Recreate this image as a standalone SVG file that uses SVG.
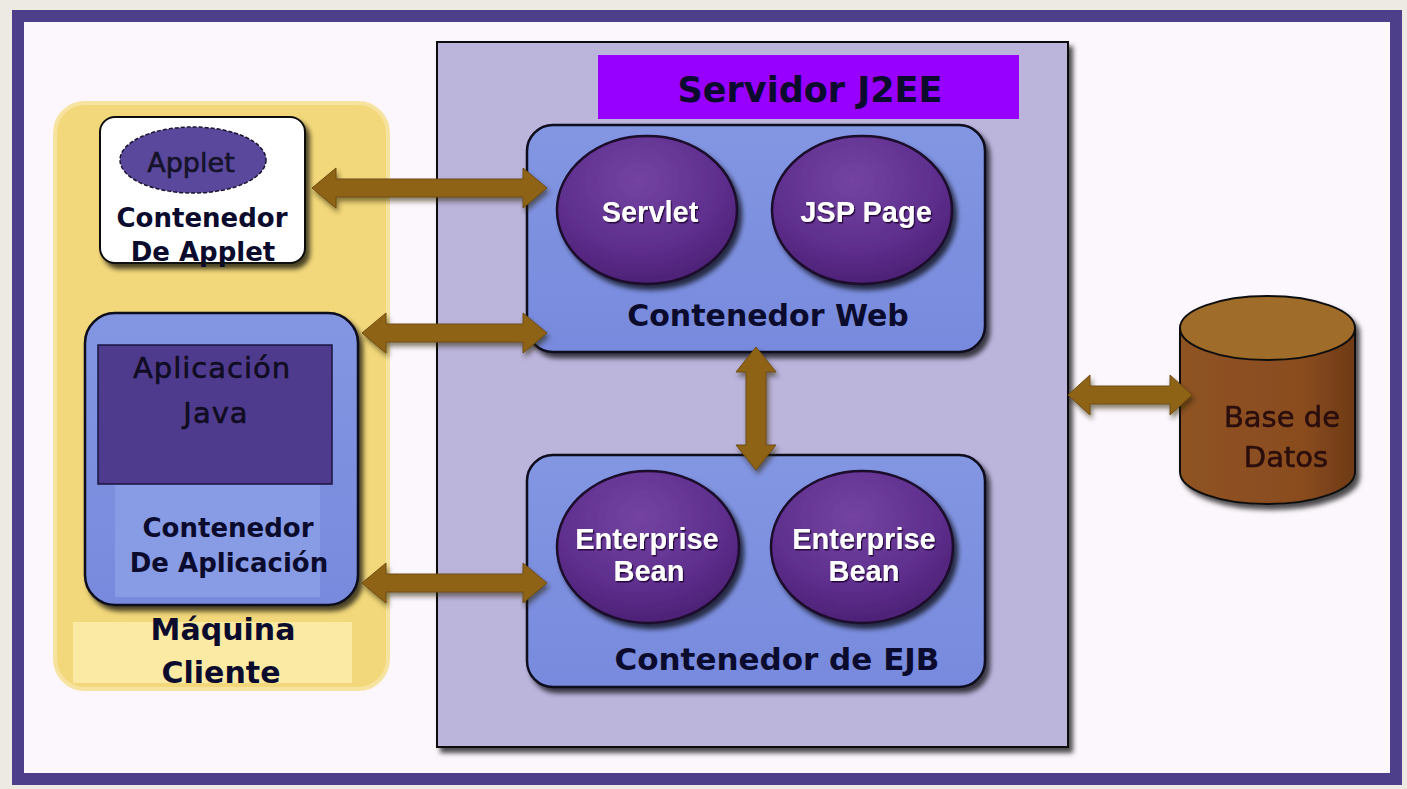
<svg xmlns="http://www.w3.org/2000/svg" width="1407" height="789" viewBox="0 0 1407 789">
  <style>
    .lbl { font-family: "DejaVu Sans", Verdana, sans-serif; font-weight: bold; fill: #0b0b2e; text-anchor: middle; }
    .reg { font-family: "DejaVu Sans", Verdana, sans-serif; font-weight: normal; text-anchor: middle; }
    .bean { font-family: "Liberation Sans", Arial, sans-serif; font-weight: bold; fill: #ffffff; text-anchor: middle; font-size: 29px; }
    .cont { fill: url(#blueG); stroke: #0a0a1e; stroke-width: 2.5; }
    .ball { fill: url(#ballG); stroke: #1a0a2a; stroke-width: 2.5; }
    .arrow { fill: #8f6419; stroke: #6e4c10; stroke-width: 1; }
  </style>
  <defs>
    <filter id="sh" x="-10%" y="-10%" width="125%" height="125%">
      <feDropShadow dx="4" dy="5" stdDeviation="2.5" flood-color="#000" flood-opacity="0.7"/>
    </filter>
    <filter id="shs" x="-10%" y="-10%" width="125%" height="130%">
      <feDropShadow dx="2" dy="4" stdDeviation="2.5" flood-color="#2a1a00" flood-opacity="0.55"/>
    </filter>
    <filter id="ts" x="-5%" y="-20%" width="110%" height="140%">
      <feDropShadow dx="1.2" dy="1.5" stdDeviation="0.6" flood-color="#1a0030" flood-opacity="0.9"/>
    </filter>
    <linearGradient id="blueG" x1="0" y1="0" x2="0" y2="1">
      <stop offset="0" stop-color="#8396e2"/>
      <stop offset="1" stop-color="#778add"/>
    </linearGradient>
    <radialGradient id="ballG" cx="0.45" cy="0.3" r="0.75">
      <stop offset="0" stop-color="#7444a2"/>
      <stop offset="0.6" stop-color="#5f2f8e"/>
      <stop offset="1" stop-color="#4a1f72"/>
    </radialGradient>
    <linearGradient id="dbBody" x1="0" y1="0" x2="1" y2="0">
      <stop offset="0" stop-color="#8f5322"/>
      <stop offset="0.7" stop-color="#8a4c1f"/>
      <stop offset="1" stop-color="#6e3a16"/>
    </linearGradient>
  </defs>

  <!-- background & frame -->
  <rect x="0" y="0" width="1407" height="789" fill="#edeae4"/>
  <rect x="18" y="16" width="1378" height="763" fill="#fcf7fc" stroke="#4e3f8a" stroke-width="12"/>

  <!-- client machine -->
  <g id="maquina-cliente">
    <rect x="55" y="103" width="333" height="586" rx="30" fill="#f2d87a" stroke="#f6e3a0" stroke-width="4"/>
    <rect x="73" y="622" width="279" height="61" fill="#fbeaa4"/>
    <text class="lbl" x="223" y="640" font-size="30">Máquina</text>
    <text class="lbl" x="221" y="683" font-size="30">Cliente</text>
  </g>

  <g id="contenedor-applet">
    <rect x="100" y="117" width="205" height="146" rx="15" fill="#ffffff" stroke="#111" stroke-width="2" filter="url(#sh)"/>
    <ellipse cx="193" cy="160" rx="73" ry="33" fill="#5a489c" stroke="#1a1430" stroke-width="1.5" stroke-dasharray="4 2"/>
    <text class="reg" x="191" y="172" font-size="27" fill="#15122a" stroke="#15122a" stroke-width="0.6">Applet</text>
    <text class="lbl" x="202" y="227" font-size="26" fill="#000">Contenedor</text>
    <text class="lbl" x="203" y="261" font-size="26" fill="#000">De Applet</text>
    <line x1="112" y1="263" x2="293" y2="263" stroke="#111" stroke-width="2"/>
  </g>

  <g id="contenedor-aplicacion">
    <rect x="85" y="313" width="273" height="292" rx="30" class="cont" filter="url(#sh)"/>
    <rect x="115" y="485" width="205" height="112" fill="#889be5"/>
    <rect x="98" y="345" width="234" height="139" fill="#4f3b8d" stroke="#1a1440" stroke-width="1.5"/>
    <text class="reg" x="212" y="378" font-size="29" fill="#100c22" stroke="#100c22" stroke-width="0.6" letter-spacing="1">Aplicación</text>
    <text class="reg" x="216" y="423" font-size="29" fill="#100c22" stroke="#100c22" stroke-width="0.6" letter-spacing="1">Java</text>
    <text class="lbl" x="228" y="537" font-size="26">Contenedor</text>
    <text class="lbl" x="229" y="572" font-size="26">De Aplicación</text>
  </g>

  <!-- J2EE server -->
  <g id="servidor-j2ee">
    <rect x="437" y="42" width="631" height="705" fill="#bbb5dc" stroke="#0a0a0a" stroke-width="2" filter="url(#sh)"/>
    <rect x="598" y="55" width="421" height="64" fill="#9700ff"/>
    <text class="lbl" x="810" y="102" font-size="35" fill="#2a0050">Servidor J2EE</text>
  </g>

  <g id="contenedor-web">
    <rect x="527" y="125" width="458" height="227" rx="26" class="cont" filter="url(#sh)"/>
    <text class="lbl" x="768" y="326" font-size="30">Contenedor Web</text>
  </g>
  <g id="servlet">
    <ellipse cx="647" cy="210" rx="90" ry="74" class="ball" filter="url(#sh)"/>
    <text class="bean" x="650" y="222" font-size="32" filter="url(#ts)">Servlet</text>
  </g>
  <g id="jsp-page">
    <ellipse cx="862" cy="210" rx="90" ry="74" class="ball" filter="url(#sh)"/>
    <text class="bean" x="866" y="222" font-size="32" filter="url(#ts)">JSP Page</text>
  </g>

  <g id="contenedor-ejb">
    <rect x="527" y="455" width="458" height="232" rx="26" class="cont" filter="url(#sh)"/>
    <text class="lbl" x="777" y="670" font-size="31">Contenedor de EJB</text>
  </g>
  <g id="enterprise-bean-1">
    <ellipse cx="648" cy="547" rx="91" ry="76" class="ball" filter="url(#sh)"/>
    <text class="bean" x="647" y="549" filter="url(#ts)">Enterprise</text>
    <text class="bean" x="649" y="581" filter="url(#ts)">Bean</text>
  </g>
  <g id="enterprise-bean-2">
    <ellipse cx="862" cy="547" rx="91" ry="76" class="ball" filter="url(#sh)"/>
    <text class="bean" x="864" y="549" filter="url(#ts)">Enterprise</text>
    <text class="bean" x="864" y="581" filter="url(#ts)">Bean</text>
  </g>

  <!-- database -->
  <g id="base-de-datos" filter="url(#sh)">
    <path d="M1180,328 L1180,472 A87.5,32 0 0 0 1355,472 L1355,328 Z" fill="url(#dbBody)" stroke="#111" stroke-width="2"/>
    <ellipse cx="1267.5" cy="328" rx="87.5" ry="32" fill="#a06c29" stroke="#111" stroke-width="2"/>
    <text class="reg" x="1282" y="427" font-size="29" fill="#2a0c0c" stroke="#2a0c0c" stroke-width="0.5">Base de</text>
    <text class="reg" x="1286" y="467" font-size="29" fill="#2a0c0c" stroke="#2a0c0c" stroke-width="0.5">Datos</text>
  </g>

  <!-- connectors -->
  <g id="connectors" filter="url(#shs)">
    <path class="arrow" d="M312,188 L336,168 L336,179 L523,179 L523,168 L547,188 L523,208 L523,197 L336,197 L336,208 Z"/>
    <path class="arrow" d="M362,333 L386,313 L386,324 L523,324 L523,313 L547,333 L523,353 L523,342 L386,342 L386,353 Z"/>
    <path class="arrow" d="M362,583 L386,563 L386,574 L523,574 L523,563 L547,583 L523,603 L523,592 L386,592 L386,603 Z"/>
    <path class="arrow" d="M756,347 L776,372 L766,372 L766,445 L776,445 L756,470 L736,445 L746,445 L746,372 L736,372 Z"/>
    <path class="arrow" d="M1068,395 L1090,375 L1090,386 L1170,386 L1170,375 L1192,395 L1170,415 L1170,404 L1090,404 L1090,415 Z"/>
  </g>
</svg>
